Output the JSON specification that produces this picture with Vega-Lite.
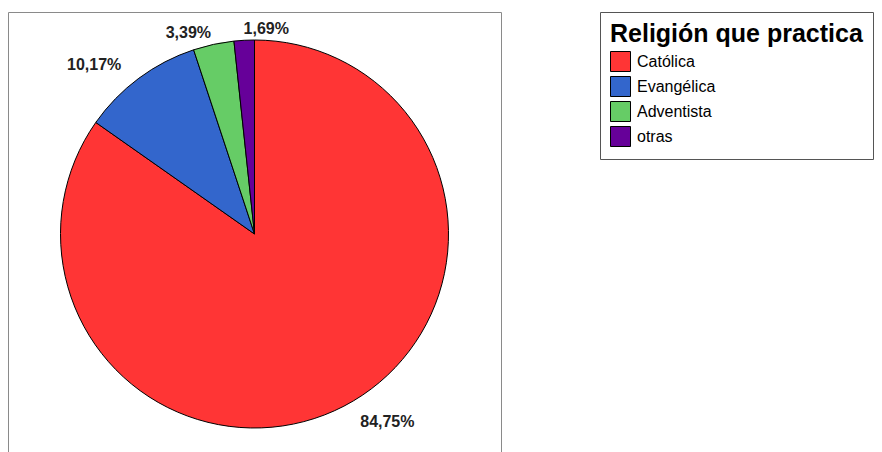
{
  "$schema": "https://vega.github.io/schema/vega-lite/v6.json",
  "width": 493,
  "height": 444,
  "autosize": "none",
  "padding": {"left": 8, "top": 12, "right": 381, "bottom": 0},
  "background": "white",
  "view": {"stroke": "#8a8a8a", "strokeWidth": 1, "fill": "white"},
  "config": {
    "font": "Liberation Sans",
    "text": {"font": "Liberation Sans", "fontSize": 16, "fontWeight": "bold", "color": "#222222", "baseline": "middle"},
    "locale": {
      "number": {"decimal": ",", "thousands": ".", "grouping": [3], "currency": ["", " €"]}
    }
  },
  "data": {
    "values": [
      {"religion": "Católica", "orden": 1, "pct": 0.8475},
      {"religion": "Evangélica", "orden": 2, "pct": 0.1017},
      {"religion": "Adventista", "orden": 3, "pct": 0.0339},
      {"religion": "otras", "orden": 4, "pct": 0.0169}
    ]
  },
  "encoding": {
    "theta": {"field": "pct", "type": "quantitative", "stack": true},
    "order": {"field": "orden", "type": "quantitative"}
  },
  "layer": [
    {
      "mark": {"type": "arc", "outerRadius": 194, "stroke": "#000000", "strokeWidth": 1},
      "encoding": {
        "color": {
          "field": "religion",
          "type": "nominal",
          "sort": ["Católica", "Evangélica", "Adventista", "otras"],
          "scale": {
            "domain": ["Católica", "Evangélica", "Adventista", "otras"],
            "range": ["#ff3535", "#3366cc", "#66cc66", "#660099"]
          },
          "legend": {
            "title": "Religión que practica",
            "orient": "none",
            "legendX": 592,
            "legendY": 0,
            "direction": "vertical",
            "titleFont": "Liberation Sans",
            "titleFontSize": 25,
            "titleFontWeight": "bold",
            "titleColor": "#000000",
            "titleLimit": 400,
            "titlePadding": 4,
            "labelFont": "Liberation Sans",
            "labelFontSize": 16,
            "labelColor": "#000000",
            "labelOffset": 6,
            "symbolType": "square",
            "symbolSize": 400,
            "symbolStrokeColor": "#000000",
            "symbolStrokeWidth": 1,
            "symbolOpacity": 1,
            "rowPadding": 0,
            "padding": 10,
            "strokeColor": "#555555",
            "fillColor": "#ffffff"
          }
        }
      }
    },
    {
      "mark": {"type": "text", "radius": 212, "align": "left", "dx": 8},
      "encoding": {
        "text": {
          "condition": {"test": "datum.religion === 'Católica'", "field": "pct", "type": "quantitative", "format": ".2%"},
          "value": ""
        }
      }
    },
    {
      "mark": {"type": "text", "radius": 210, "align": "right", "dx": -8},
      "encoding": {
        "text": {
          "condition": {"test": "datum.religion === 'Evangélica'", "field": "pct", "type": "quantitative", "format": ".2%"},
          "value": ""
        }
      }
    },
    {
      "mark": {"type": "text", "radius": 206, "align": "right"},
      "encoding": {
        "text": {
          "condition": {"test": "datum.religion === 'Adventista'", "field": "pct", "type": "quantitative", "format": ".2%"},
          "value": ""
        }
      }
    },
    {
      "mark": {"type": "text", "radius": 205, "align": "left"},
      "encoding": {
        "text": {
          "condition": {"test": "datum.religion === 'otras'", "field": "pct", "type": "quantitative", "format": ".2%"},
          "value": ""
        }
      }
    }
  ]
}
